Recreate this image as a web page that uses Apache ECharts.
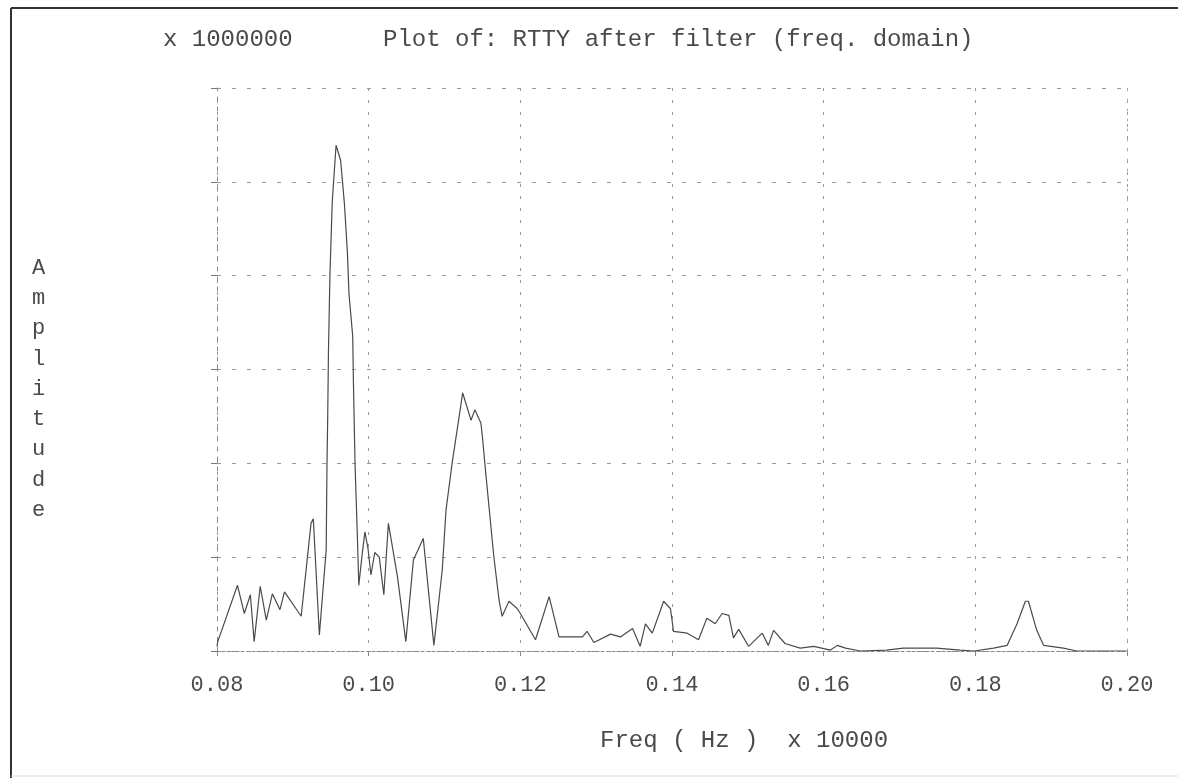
<!DOCTYPE html>
<html>
<head>
<meta charset="utf-8">
<script src="https://cdn.jsdelivr.net/npm/echarts@6/dist/echarts.min.js"></script>
<style>
  html, body { margin: 0; padding: 0; background: #ffffff; }
  #chart { width: 1178px; height: 778px; }
</style>
</head>
<body>
<div id="chart"></div>
<script>
// Spectrum of the RTTY signal after filtering (amplitude vs. frequency)
const freq = [
  0.0800, 0.0801, 0.0827, 0.0836, 0.0844, 0.0849, 0.0857, 0.0865, 0.0873, 0.0883,
  0.0889, 0.0911, 0.0924, 0.0927, 0.0935, 0.0944, 0.0945, 0.0946, 0.0947, 0.0949,
  0.0952, 0.0957, 0.0963, 0.0968, 0.0972, 0.0974, 0.0979, 0.0980, 0.0982, 0.0985,
  0.0987, 0.0991, 0.0995, 0.0999, 0.1003, 0.1008, 0.1014, 0.1020, 0.1026, 0.1029,
  0.1038, 0.1049, 0.1059, 0.1072, 0.1086, 0.1097, 0.1102, 0.1110, 0.1124, 0.1135,
  0.1140, 0.1148, 0.1150, 0.1154, 0.1165, 0.1172, 0.1176, 0.1185, 0.1196, 0.1200,
  0.1220, 0.1238, 0.1251, 0.1282, 0.1288, 0.1297, 0.1319, 0.1332, 0.1348, 0.1358,
  0.1365, 0.1374, 0.1389, 0.1398, 0.1402, 0.1420, 0.1435, 0.1446, 0.1457, 0.1466,
  0.1475, 0.1481, 0.1488, 0.1501, 0.1519, 0.1527, 0.1534, 0.1549, 0.1569, 0.1587,
  0.1609, 0.1618, 0.1629, 0.1648, 0.1683, 0.1705, 0.1749, 0.1780, 0.1798, 0.1824,
  0.1842, 0.1855, 0.1866, 0.1870, 0.1881, 0.1890, 0.1916, 0.1934, 0.2000
];
const amplitude = [
  0.05, 0.10, 0.70, 0.40, 0.60, 0.10, 0.69, 0.33, 0.61, 0.44,
  0.63, 0.37, 1.36, 1.41, 0.17, 1.08, 1.96, 2.50, 3.21, 4.03,
  4.79, 5.39, 5.23, 4.77, 4.24, 3.81, 3.35, 2.82, 2.00, 1.25,
  0.70, 1.00, 1.27, 1.10, 0.81, 1.05, 1.00, 0.60, 1.36, 1.22,
  0.79, 0.10, 0.97, 1.20, 0.06, 0.86, 1.50, 2.00, 2.75, 2.46,
  2.57, 2.43, 2.28, 1.93, 1.01, 0.54, 0.37, 0.53, 0.45, 0.40,
  0.12, 0.58, 0.15, 0.15, 0.21, 0.09, 0.18, 0.15, 0.24, 0.05,
  0.29, 0.19, 0.53, 0.45, 0.21, 0.19, 0.12, 0.35, 0.29, 0.40,
  0.38, 0.14, 0.23, 0.05, 0.19, 0.06, 0.22, 0.08, 0.03, 0.05,
  0.01, 0.06, 0.03, 0.00, 0.01, 0.03, 0.03, 0.01, 0.00, 0.03,
  0.06, 0.29, 0.53, 0.53, 0.22, 0.06, 0.03, 0.00, 0.00
];

// Axis ranges and labels
const xMin = 0.08, xMax = 0.20, xStep = 0.02;
const yMin = 0, yMax = 6, yStep = 1;
const titleText = 'Plot of: RTTY after filter (freq. domain)';
const yScaleText = 'x 1000000';
const xAxisTitle = 'Freq ( Hz )  x 10000';
const yAxisTitle = 'Amplitude';

const FONT = '"Liberation Mono", "DejaVu Sans Mono", monospace';
const INK = '#4a4a4a';

const chart = echarts.init(document.getElementById('chart'), null, { renderer: 'canvas' });

chart.setOption({
  backgroundColor: '#ffffff',
  animation: false,
  grid: { left: 217, right: 51, top: 88, bottom: 127, containLabel: false },
  xAxis: [
    {
      type: 'value', min: xMin, max: xMax, interval: xStep,
      axisLine: { show: true, lineStyle: { color: '#888', width: 1, type: [2, 4] } },
      axisTick: { show: true, length: 5, lineStyle: { color: '#888' } },
      axisLabel: {
        margin: 23, fontFamily: FONT, fontSize: 22, color: INK,
        formatter: v => v.toFixed(2)
      },
      splitLine: { show: true, lineStyle: { color: '#999', width: 1, type: [3, 9] } }
    },
    {
      type: 'value', position: 'top', min: xMin, max: xMax, interval: xStep,
      axisLine: { show: true, lineStyle: { color: '#888', width: 1, type: [2, 3] } },
      axisTick: { show: false }, axisLabel: { show: false }, splitLine: { show: false }
    }
  ],
  yAxis: [
    {
      type: 'value', min: yMin, max: yMax, interval: yStep,
      axisLine: { show: true, lineStyle: { color: '#888', width: 1, type: [4, 6] } },
      axisTick: { show: true, length: 6, lineStyle: { color: '#777' } },
      axisLabel: { show: false },
      splitLine: { show: true, lineStyle: { color: '#999', width: 1, type: [4, 11] } }
    },
    {
      type: 'value', position: 'right', min: yMin, max: yMax, interval: yStep,
      axisLine: { show: true, lineStyle: { color: '#aaa', width: 1, type: [2, 8] } },
      axisTick: { show: false }, axisLabel: { show: false }, splitLine: { show: false }
    }
  ],
  series: [
    {
      type: 'line',
      data: freq.map((f, i) => [f, amplitude[i]]),
      showSymbol: false,
      lineStyle: { color: '#4a4a4a', width: 1.2 },
      silent: true
    }
  ],
  graphic: [
    // page frame
    { type: 'line', shape: { x1: 11, y1: 8, x2: 1178, y2: 8 }, style: { stroke: '#333', lineWidth: 2 } },
    { type: 'line', shape: { x1: 11, y1: 8, x2: 11, y2: 778 }, style: { stroke: '#333', lineWidth: 2 } },
    { type: 'line', shape: { x1: 11, y1: 776, x2: 1178, y2: 776 }, style: { stroke: '#ddd', lineWidth: 1 } },
    // headings
    {
      type: 'text', left: 163, top: 28,
      style: { text: yScaleText, font: '24px ' + FONT, fill: INK }
    },
    {
      type: 'text', left: 383, top: 28,
      style: { text: titleText, font: '24px ' + FONT, fill: INK }
    },
    // x axis title
    {
      type: 'text', left: 600, top: 729,
      style: { text: xAxisTitle, font: '24px ' + FONT, fill: INK }
    },
    // y axis title, one letter per line
    {
      type: 'text', left: 32, top: 253,
      style: {
        text: yAxisTitle.split('').join('\n'),
        font: '22px ' + FONT, fill: INK, lineHeight: 30.25, align: 'left'
      }
    }
  ]
});
</script>
</body>
</html>
